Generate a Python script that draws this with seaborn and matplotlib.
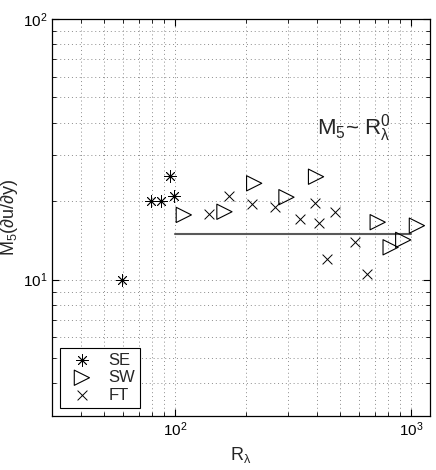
import numpy as np
import pandas as pd
import matplotlib
matplotlib.use("Agg")
import matplotlib.pyplot as plt
import seaborn as sns

# ---------------------------------------------
# Data
# ---------------------------------------------
se_R = [59.3, 78.7, 86.7, 94.9, 99.0]
se_M = [10.0, 20.0, 20.0, 25.0, 20.9]

sw_R = [108.7, 161.6, 216, 296, 395, 721, 818, 925, 1057]
sw_M = [17.7, 18.2, 23.4, 20.7, 24.8, 16.6, 13.3, 14.2, 16.1]

ft_R = [139.6, 169.5, 210.7, 263.6, 338, 391.5, 407, 474, 441, 578, 651]
ft_M = [17.9, 20.9, 19.5, 19.0, 17.0, 19.6, 16.5, 18.1, 12.0, 13.9, 10.5]

fit_R = [100, 1000]
fit_M = [15.0, 15.0]

# ---------------------------------------------
# Style
# ---------------------------------------------
sns.set_style("ticks")
plt.rcParams["font.family"] = ["Liberation Sans", "DejaVu Sans"]
plt.rcParams["mathtext.fontset"] = "custom"
plt.rcParams["mathtext.rm"] = "Liberation Sans"
plt.rcParams["mathtext.it"] = "Liberation Sans"
plt.rcParams["mathtext.sf"] = "Liberation Sans"

fig = plt.figure(figsize=(4.36, 4.70), dpi=100)
ax = fig.add_axes([0.119, 0.115, 0.867, 0.845])

se = pd.DataFrame({"R": se_R, "M": se_M})
sw = pd.DataFrame({"R": sw_R, "M": sw_M})
ft = pd.DataFrame({"R": ft_R, "M": ft_M})

sns.scatterplot(data=se, x="R", y="M", marker=(8, 2, 0), s=70, color="k",
                linewidth=0.6, ax=ax, label="SE", zorder=3)
sns.scatterplot(data=sw, x="R", y="M", marker=">", s=120, facecolor="none",
                edgecolor="k", linewidth=0.8, ax=ax, label="SW", zorder=3)
sns.scatterplot(data=ft, x="R", y="M", marker="x", s=50, color="k",
                linewidth=0.7, ax=ax, label="FT", zorder=3)
sns.lineplot(x=fit_R, y=fit_M, color="0.35", linewidth=1.5, ax=ax, zorder=2)

ax.set_xscale("log")
ax.set_yscale("log")
ax.set_xlim(30, 1200)
ax.set_ylim(3, 100)

ax.grid(True, which="both", linestyle=(0, (1, 3)), color="0.55", linewidth=0.7)
ax.tick_params(which="both", direction="in", top=True, right=True,
               labelsize=11, colors="k")
ax.tick_params(which="major", length=5)
ax.tick_params(which="minor", length=3)
for sp in ax.spines.values():
    sp.set_color("k")
    sp.set_linewidth(0.9)

ax.set_xlabel(r"R$_\lambda$", fontsize=13, labelpad=4)
ax.set_ylabel(r"M$_5$(∂u/∂y)", fontsize=13, labelpad=2)

ax.text(400, 38, r"M$_5$~ R$_\lambda^0$", fontsize=16, va="center")

leg = ax.legend(loc="lower left", fontsize=12, fancybox=False, framealpha=1,
                edgecolor="k", borderpad=0.3, handletextpad=0.6,
                labelspacing=0.15, borderaxespad=0.5)
leg.get_frame().set_linewidth(0.8)

fig.savefig("out.png", dpi=100)
